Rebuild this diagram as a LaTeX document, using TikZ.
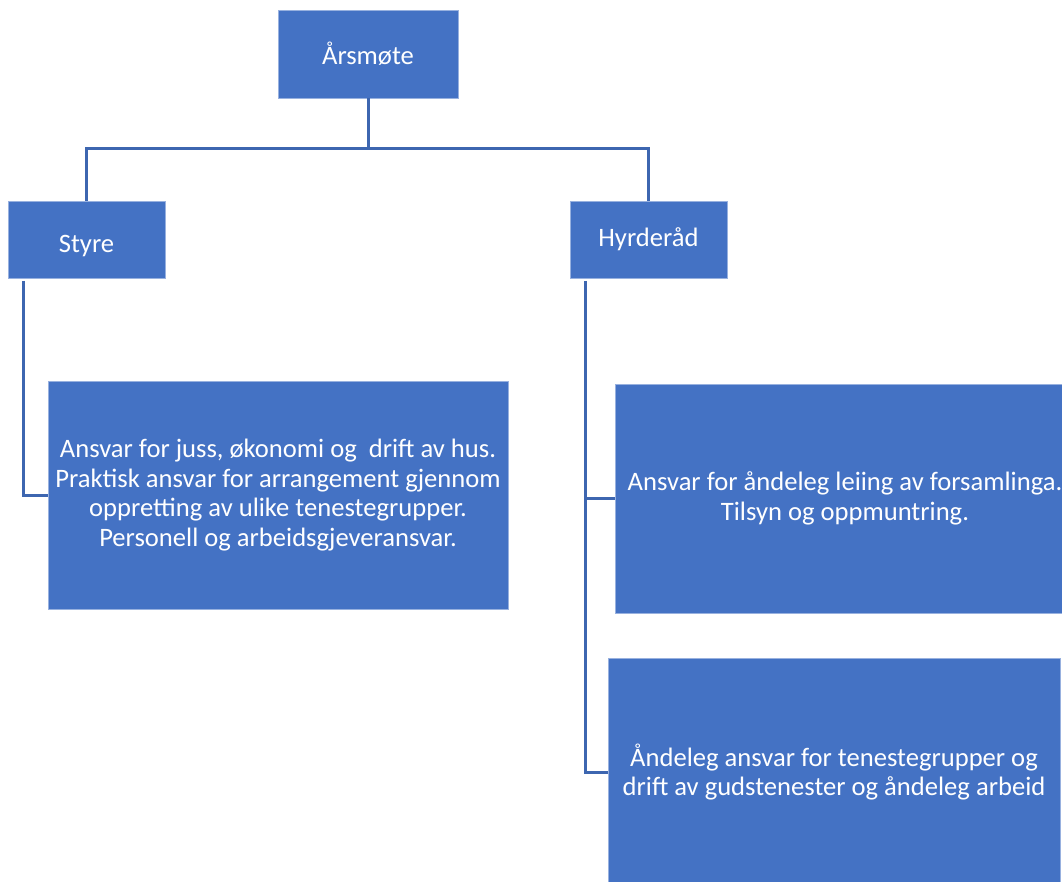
\documentclass[tikz,border=0pt]{standalone}
\usepackage{fontspec}
\setmainfont{Carlito}
\definecolor{boxblue}{HTML}{4472C4}
\definecolor{lineblue}{HTML}{3D66B0}
\tikzset{
  orgbox/.style={rectangle, fill=boxblue, draw=boxblue!55!white, line width=0.8pt,
    text=white, align=center, inner sep=0pt,
    font=\fontsize{26.6}{29.5}\selectfont},
  conn/.style={draw=lineblue, line width=3pt}
}
\begin{document}
\begin{tikzpicture}[x=1pt,y=-1pt]
\clip (0,0) rectangle (1062,882);
\fill[white] (0,0) rectangle (1062,882);
\node[orgbox, minimum width=180pt, minimum height=88pt] (top) at (368,54) {Årsmøte};
\node[orgbox, minimum width=157pt, minimum height=77pt, text height=26pt, text depth=0pt] (styre) at (86.5,239.5) {Styre};
\node[orgbox, minimum width=157pt, minimum height=77pt] (hyrde) at (648.5,239.5) {Hyrderåd};
\node[orgbox, minimum width=460pt, minimum height=228pt] (sbox) at (278,495)
  {Ansvar for juss, økonomi og\ \ drift av hus.\\Praktisk ansvar for arrangement gjennom\\oppretting av ulike tenestegrupper.\\Personell og arbeidsgjeveransvar.};
\node[orgbox, minimum width=460pt, minimum height=229pt] (hbox1) at (845,498.5)
  {Ansvar for åndeleg leiing av forsamlinga.\\Tilsyn og oppmuntring.};
\node[orgbox, minimum width=452pt, minimum height=228pt] (hbox2) at (834,772)
  {Åndeleg ansvar for tenestegrupper og\\drift av gudstenester og åndeleg arbeid};
% connectors
\coordinate (bus) at (368,149);
\draw[conn] (top.south) -- (bus);
\draw[conn] (bus) -| (styre.north);
\draw[conn] (bus) -| (hyrde.north);
\coordinate (sL) at (23,281);
\draw[conn] (sL) |- (sbox.west);
\coordinate (hL) at (585,281);
\draw[conn] (hL) |- (hbox2.west);
\draw[conn] (hL |- hbox1.west) -- (hbox1.west);
\end{tikzpicture}
\end{document}
